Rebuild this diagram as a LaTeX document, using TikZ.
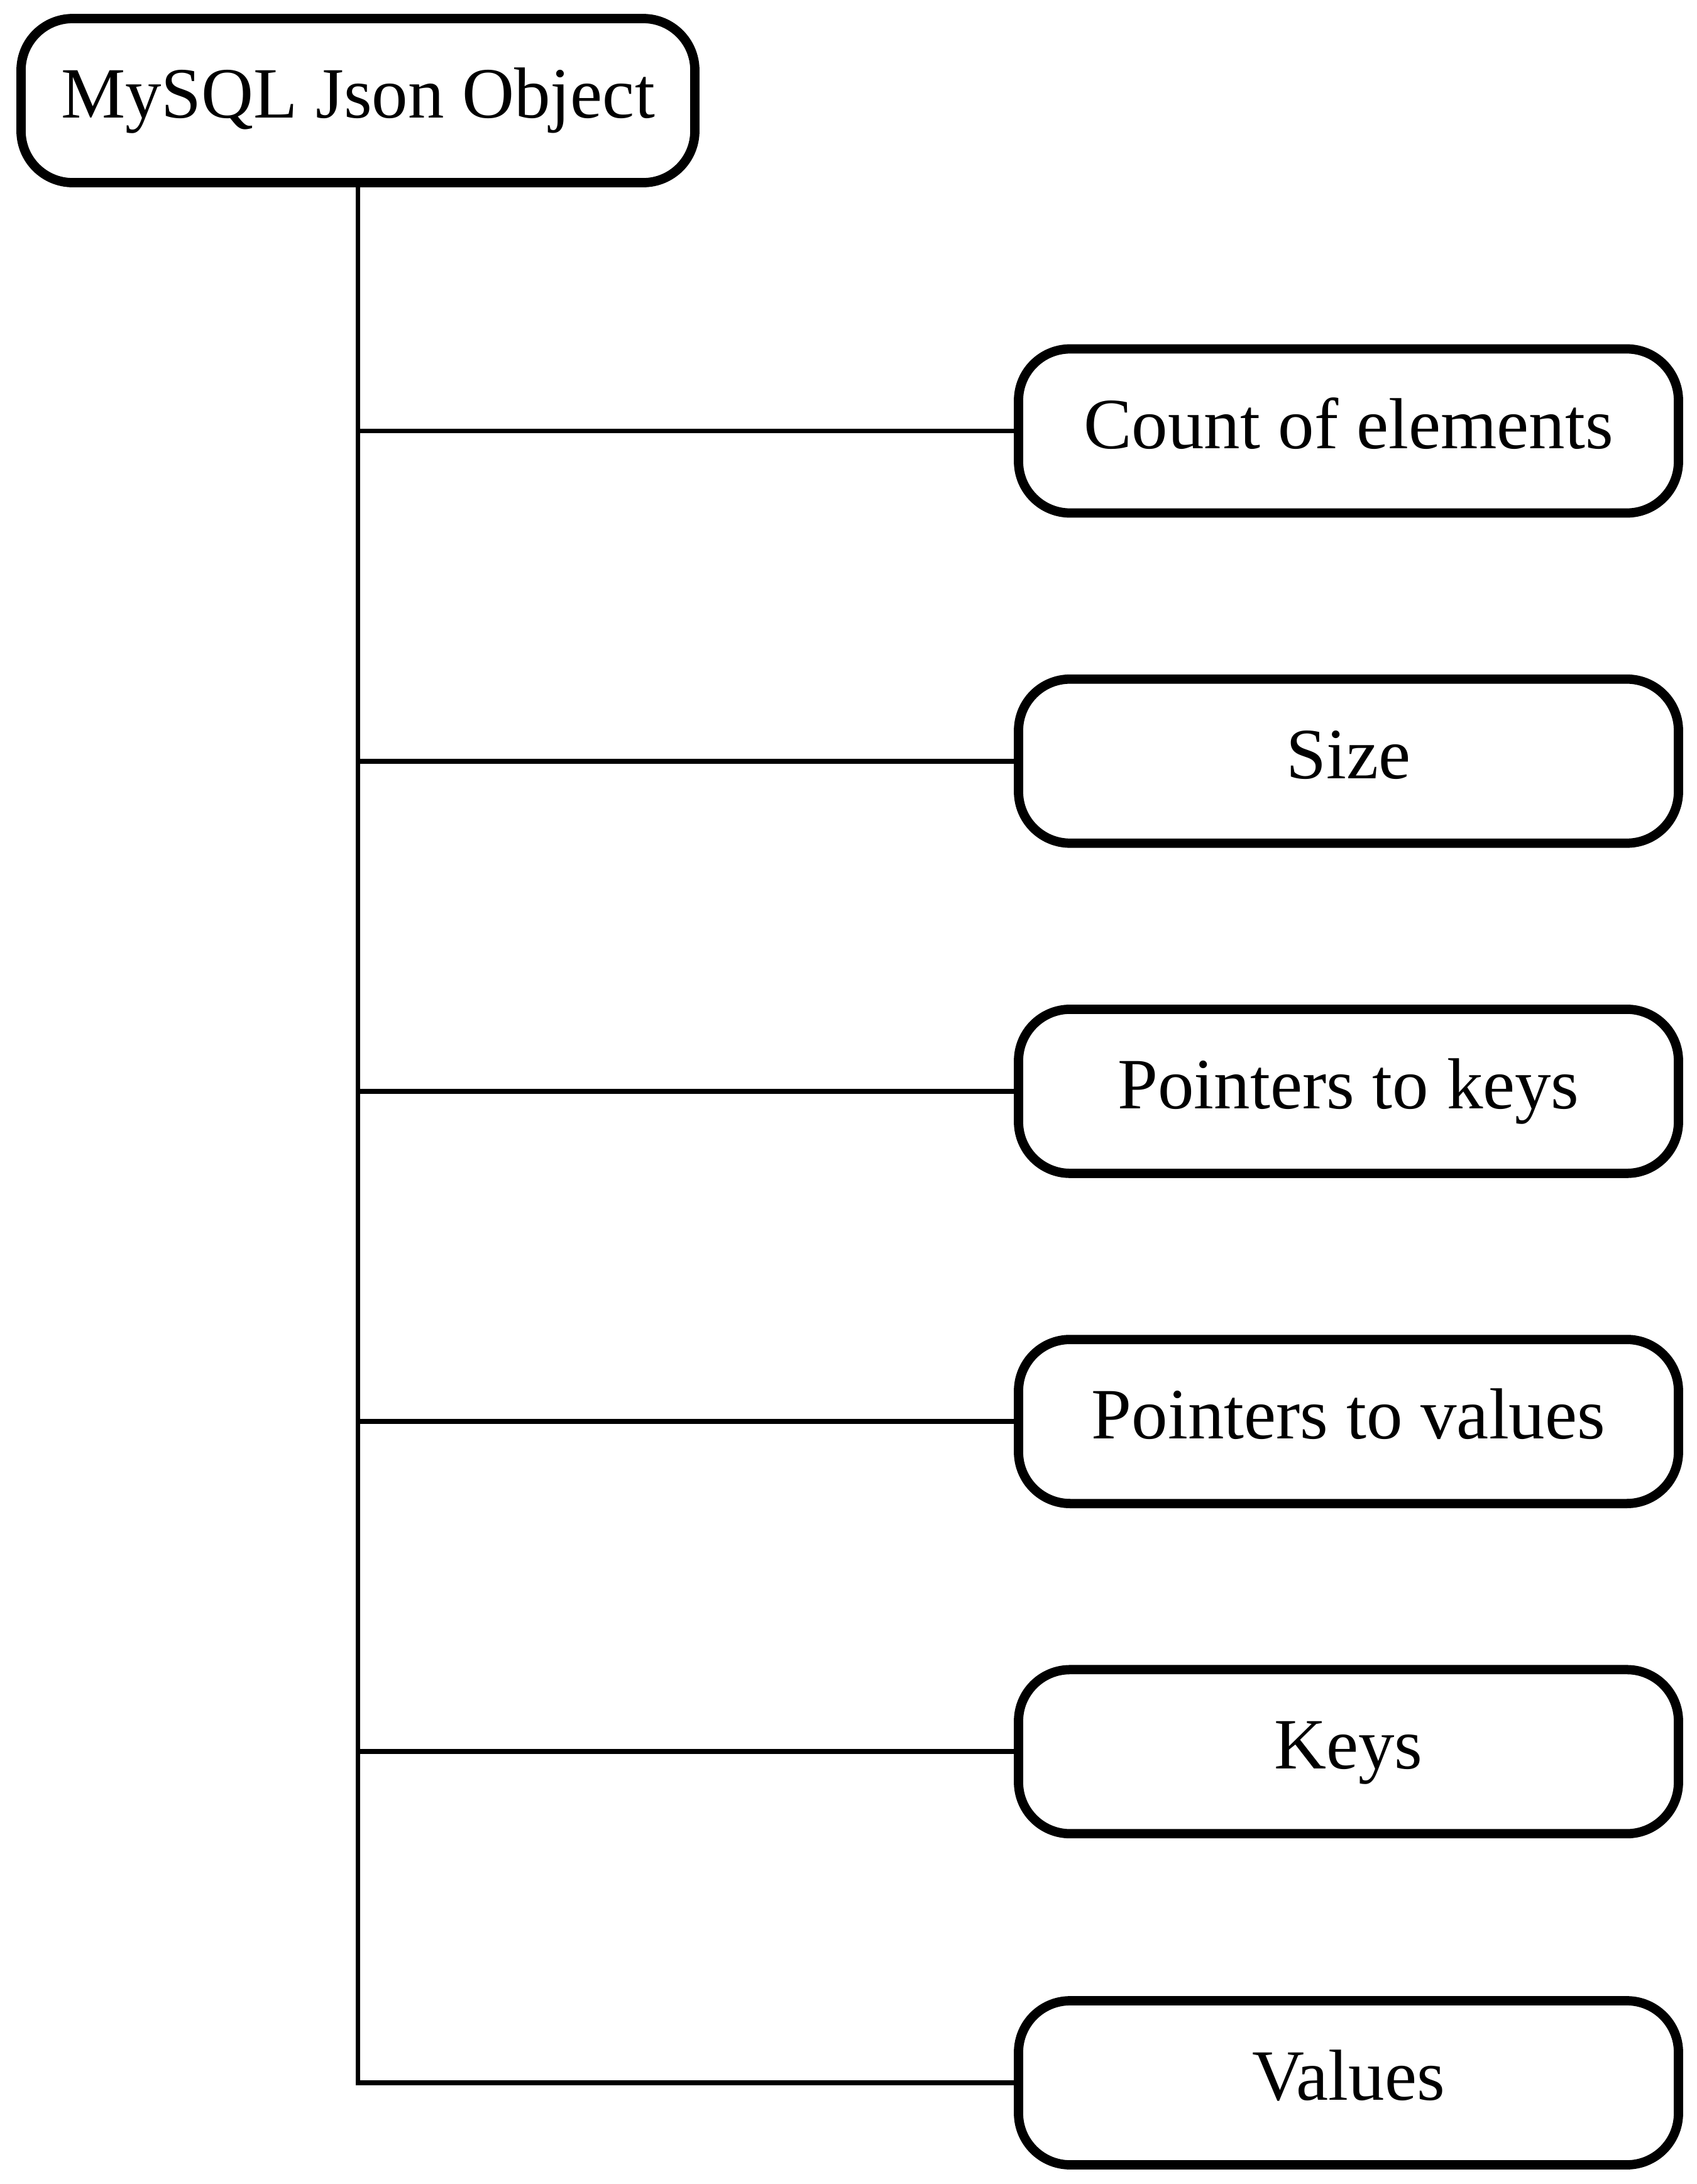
\documentclass[tikz,border=0pt]{standalone}
\usepackage{fontspec}
\setmainfont{Liberation Serif}
\begin{document}
\begin{tikzpicture}[
  box/.style={draw=black, line width=4.2pt, rounded corners=0.82cm, fill=white,
    inner sep=0pt, align=center, text height=22.9pt, text depth=7.2pt,
    font=\fontsize{32.7}{38}\selectfont},
  rootbox/.style={box, minimum width=10.72cm, minimum height=2.61cm},
  childbox/.style={box, minimum width=10.5cm, minimum height=2.61cm},
  link/.style={draw=black, line width=2.2pt}
]
\useasboundingbox (0,0) rectangle (27,-34.74);
\node[rootbox] (root) at (5.695,-1.60) {MySQL Json Object};
\node[childbox] (c1) at (21.455,-6.855) {Count of elements};
\node[childbox] (c2) at (21.455,-12.107) {Size};
\node[childbox] (c3) at (21.455,-17.359) {Pointers to keys};
\node[childbox] (c4) at (21.455,-22.611) {Pointers to values};
\node[childbox] (c5) at (21.455,-27.863) {Keys};
\node[childbox] (c6) at (21.455,-33.13) {Values};
\foreach \c in {c1,c2,c3,c4,c5,c6} {
  \draw[link] (root.south) |- (\c.west);
}
\end{tikzpicture}
\end{document}
